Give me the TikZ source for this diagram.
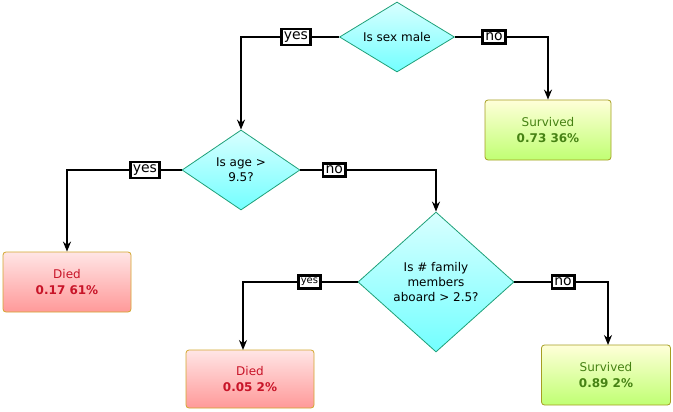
\documentclass[tikz,border=0pt]{standalone}
\usepackage{fontspec}
\setmainfont{DejaVu Sans}
\usetikzlibrary{shapes.geometric,arrows.meta}
\definecolor{qborder}{RGB}{30,160,120}
\definecolor{diedtext}{RGB}{200,20,40}
\definecolor{survtext}{RGB}{70,130,20}
\tikzset{
	question/.style = {draw=qborder, thick, diamond, top color=cyan!15, bottom color=cyan!55!white,
		align=center, inner sep=0pt, font=\fontsize{12}{15}\selectfont},
	died/.style     = {draw=brown!70!yellow, thick, rounded corners=3pt, minimum width=128pt,
		minimum height=60pt, top color=red!10, bottom color=red!40, text=diedtext,
		align=center, font=\fontsize{12}{16}\selectfont},
	survived/.style = {draw=olive!80, thick, rounded corners=3pt, minimum width=126pt,
		minimum height=60pt, top color=yellow!15, bottom color=green!45!yellow!55, text=survtext,
		align=center, font=\fontsize{12}{16}\selectfont},
	answer/.style   = {draw, fill=white, inner sep=2.5pt, font=\fontsize{14}{15}\selectfont},
	link/.style     = {line width=2.6pt, -{Stealth[length=10pt,width=8pt]}}
}
\begin{document}
\begin{tikzpicture}[x=1pt, y=-1pt]
	\useasboundingbox (0,0) rectangle (673,412);
	\node at (397,37) [question, minimum width=115pt, minimum height=70pt, aspect=1.64] (sex) {Is sex male};
	\node at (548,130) [survived] (s1) {Survived\\\textbf{0.73 36\%}};
	\node at (241,170) [question, minimum width=118pt, minimum height=80pt, aspect=1.47] (age) {Is age >\\9.5?};
	\node at (67,282) [died] (d1) {Died\\\textbf{0.17 61\%}};
	\node at (436,282) [question, minimum width=156pt, minimum height=140pt, aspect=1.11] (fam) {Is \# family\\members\\aboard > 2.5?};
	\node at (250,379) [died, minimum height=58pt] (d2) {Died\\\textbf{0.05 2\%}};
	\node at (606,375) [survived, minimum width=129pt] (s2) {Survived\\\textbf{0.89 2\%}};
	\coordinate (d2top) at (243,350);
	\coordinate (s2top) at (608,345);

	\draw[link] (sex.west) -| node[answer, pos=0.22] {yes} (age.north);
	\draw[link] (sex.east) -| node[answer, pos=0.21] {no} (s1.north);
	\draw[link] (age.west) -| node[answer, pos=0.16] {yes} (d1.north);
	\draw[link] (age.east) -| node[answer, pos=0.125] {no} (fam.north);
	\draw[link] (fam.west) -| node[answer, pos=0.21, font=\fontsize{10}{11}\selectfont] {yes} (d2top);
	\draw[link] (fam.east) -| node[answer, pos=0.26] {no} (s2top);
\end{tikzpicture}
\end{document}
